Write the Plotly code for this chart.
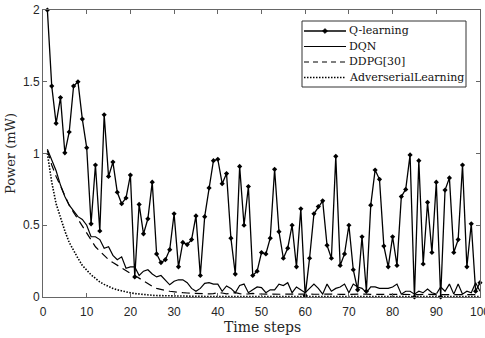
import plotly.graph_objects as go

steps = list(range(1, 101))

q_learning = [2.0, 1.47, 1.21, 1.39, 1.005, 1.15, 1.47, 1.50, 1.24, 1.04,
              0.51, 0.92, 0.46, 1.27, 0.84, 0.94, 0.73, 0.65, 0.69, 0.85,
              0.14, 0.645, 0.44, 0.545, 0.80, 0.30, 0.24, 0.26, 0.33, 0.58,
              0.21, 0.38, 0.365, 0.40, 0.565, 0.15, 0.56, 0.76, 0.95, 0.96,
              0.79, 0.86, 0.41, 0.16, 0.91, 0.50, 0.77, 0.15, 0.18, 0.31,
              0.30, 0.41, 0.89, 0.455, 0.27, 0.34, 0.50, 0.21, 0.615, 0.01,
              0.27, 0.58, 0.63, 0.67, 0.36, 0.27, 0.98, 0.22, 0.30, 0.50,
              0.19, 0.05, 0.42, 0.04, 0.64, 0.885, 0.82, 0.355, 0.21, 0.42,
              0.22, 0.70, 0.75, 0.99, 0.0, 0.95, 0.23, 0.66, 0.31, 0.80,
              0.0, 0.745, 0.83, 0.31, 0.40, 0.92, 0.21, 0.51, 0.04, 0.10]

dqn = [1.03, 0.96, 0.88, 0.78, 0.70, 0.64, 0.60, 0.56, 0.54, 0.50,
       0.42, 0.42, 0.40, 0.34, 0.35, 0.29, 0.26, 0.28, 0.20, 0.21,
       0.21, 0.15, 0.18, 0.19, 0.16, 0.14, 0.15, 0.12, 0.085, 0.11,
       0.12, 0.12, 0.10, 0.06, 0.04, 0.06, 0.095, 0.10, 0.09, 0.09,
       0.04, 0.077, 0.06, 0.03, 0.08, 0.09, 0.03, 0.05, 0.07, 0.065,
       0.03, 0.05, 0.05, 0.09, 0.08, 0.10, 0.03, 0.07, 0.05, 0.03,
       0.06, 0.09, 0.06, 0.02, 0.09, 0.04, 0.06, 0.07, 0.09, 0.03,
       0.09, 0.07, 0.06, 0.03, 0.07, 0.07, 0.06, 0.06, 0.06, 0.07,
       0.09, 0.02, 0.04, 0.04, 0.02, 0.04, 0.03, 0.055, 0.03, 0.02,
       0.07, 0.04, 0.09, 0.02, 0.09, 0.02, 0.04, 0.03, 0.10, 0.04]

ddpg = [1.02, 0.92, 0.84, 0.77, 0.70, 0.64, 0.59, 0.54, 0.49, 0.44,
        0.39, 0.35, 0.32, 0.29, 0.26, 0.24, 0.22, 0.20, 0.18, 0.165,
        0.15, 0.13, 0.11, 0.09, 0.075, 0.06, 0.05, 0.045, 0.04, 0.035,
        0.032, 0.03, 0.028, 0.026, 0.025, 0.024, 0.025, 0.022, 0.024, 0.03,
        0.028, 0.022, 0.026, 0.03, 0.024, 0.02, 0.022, 0.025, 0.021, 0.02,
        0.022, 0.02, 0.021, 0.02, 0.019, 0.02, 0.021, 0.02, 0.019, 0.02,
        0.02, 0.019, 0.02, 0.018, 0.02, 0.019, 0.02, 0.018, 0.019, 0.02,
        0.018, 0.019, 0.018, 0.02, 0.018, 0.019, 0.018, 0.017, 0.018, 0.019,
        0.018, 0.017, 0.018, 0.017, 0.018, 0.017, 0.018, 0.017, 0.016, 0.017,
        0.018, 0.017, 0.016, 0.017, 0.016, 0.017, 0.016, 0.017, 0.016, 0.016]

adversarial = [1.0, 0.80, 0.65, 0.55, 0.46, 0.38, 0.32, 0.27, 0.22, 0.185,
               0.155, 0.13, 0.105, 0.088, 0.073, 0.06, 0.05, 0.042, 0.035, 0.029,
               0.024, 0.02, 0.017, 0.014, 0.012, 0.01, 0.009, 0.008, 0.007, 0.006,
               0.006, 0.005, 0.005, 0.005, 0.004, 0.004, 0.004, 0.004, 0.004, 0.004,
               0.004, 0.004, 0.003, 0.003, 0.003, 0.003, 0.003, 0.003, 0.003, 0.003,
               0.003, 0.003, 0.003, 0.003, 0.003, 0.003, 0.003, 0.003, 0.003, 0.003,
               0.003, 0.003, 0.003, 0.003, 0.003, 0.003, 0.003, 0.003, 0.003, 0.003,
               0.003, 0.003, 0.003, 0.003, 0.003, 0.003, 0.003, 0.003, 0.003, 0.003,
               0.003, 0.003, 0.003, 0.003, 0.003, 0.003, 0.003, 0.003, 0.003, 0.003,
               0.003, 0.003, 0.003, 0.003, 0.003, 0.003, 0.003, 0.003, 0.003, 0.003]

series_names = ["Q-learning", "DQN", "DDPG[30]", "AdverserialLearning"]
x_ticks = [0, 10, 20, 30, 40, 50, 60, 70, 80, 90, 100]
y_ticks = [0, 0.5, 1, 1.5, 2]
y_tick_labels = ["0", "0.5", "1", "1.5", "2"]

serif = "DejaVu Serif"
sans = "Liberation Sans, Arial, sans-serif"

# body margin is removed in the page (post_script), so page px == figure px
W, H = 485, 338
ML, MR, MT, MB = 43, 5, 10, 41
PW, PH = W - ML - MR, H - MT - MB

def px(x):  # page pixel -> paper
    return (x - ML) / PW

def py(y):
    return (H - MB - y) / PH

line_styles = [
    dict(color="black", width=1.3),
    dict(color="black", width=1.2),
    dict(color="black", width=1.2, dash="8px,5px"),
    dict(color="black", width=1.6, dash="1.5px,1.5px"),
]
series_values = [q_learning, dqn, ddpg, adversarial]

fig = go.Figure()
for i, (name, vals) in enumerate(zip(series_names, series_values)):
    if i == 0:
        fig.add_trace(go.Scatter(x=steps, y=vals, name=name, mode="lines+markers",
                                 line=line_styles[i], cliponaxis=False,
                                 marker=dict(symbol="diamond", size=4, color="black")))
    else:
        fig.add_trace(go.Scatter(x=steps, y=vals, name=name, mode="lines",
                                 line=line_styles[i]))

# manual legend (to match compact row spacing)
shapes = []
annotations = []
box = (302, 21, 466, 87)
shapes.append(dict(type="rect", xref="paper", yref="paper",
                   x0=px(box[0]), x1=px(box[2]), y0=py(box[3]), y1=py(box[1]),
                   line=dict(color="#333", width=1), fillcolor="white", layer="above"))
row_y = [31, 46.5, 62, 77.5]
shape_dash = [None, None, "5px,4px", "1.5px,1.5px"]
for i, name in enumerate(series_names):
    ln = dict(color="black", width=line_styles[i]["width"])
    if shape_dash[i]:
        ln["dash"] = shape_dash[i]
    shapes.append(dict(type="line", xref="paper", yref="paper",
                       x0=px(304), x1=px(346), y0=py(row_y[i]), y1=py(row_y[i]),
                       line=ln, layer="above"))
    annotations.append(dict(text=name, xref="paper", yref="paper",
                            x=px(347), y=py(row_y[i]), xanchor="left", yanchor="middle",
                            showarrow=False,
                            font=dict(family=serif, size=11, color="#111")))
# diamond marker for Q-learning legend entry
cx, cy, r = 325, row_y[0], 2.6
shapes.append(dict(type="path", xref="paper", yref="paper",
                   path="M {} {} L {} {} L {} {} L {} {} Z".format(
                       px(cx), py(cy - r), px(cx + r), py(cy), px(cx), py(cy + r), px(cx - r), py(cy)),
                   fillcolor="black", line=dict(color="black", width=0.5), layer="above"))

# x-axis title as annotation for exact placement
annotations.append(dict(text="Time steps", xref="paper", yref="paper",
                        x=px(262), y=py(327), xanchor="center", yanchor="middle",
                        showarrow=False,
                        font=dict(family=serif, size=14, color="#262626")))

axis_common = dict(showline=True, mirror="ticks", linecolor="#666", linewidth=1,
                   ticks="inside", ticklen=4, tickcolor="#666", showgrid=False,
                   zeroline=False, automargin=False, ticklabeloverflow="allow",
                   tickfont=dict(family=sans, size=12, color="#262626"))

fig.update_layout(
    width=W, height=H,
    margin=dict(l=ML, r=MR, t=MT, b=MB),
    paper_bgcolor="white", plot_bgcolor="white",
    showlegend=False,
    hovermode=False,
    shapes=shapes,
    annotations=annotations,
    xaxis=dict(range=[0, 100], tickvals=x_ticks, ticklabelstandoff=4,
               **axis_common),
    yaxis=dict(range=[0, 2], tickvals=y_ticks, ticktext=y_tick_labels,
               title=dict(text="Power (mW)", font=dict(family=serif, size=13, color="#262626"),
                          standoff=4),
               **axis_common),
)

fig.write_html("out.html",
               config={"displayModeBar": False, "staticPlot": True},
               post_script="document.body.style.margin='0';document.body.style.overflow='hidden';")
